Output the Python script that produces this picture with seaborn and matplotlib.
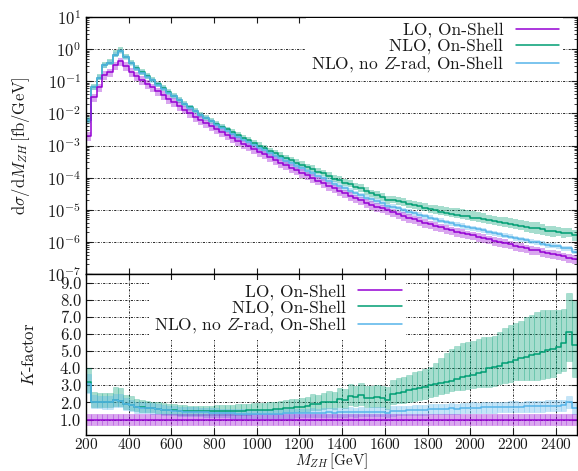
import numpy as np
import matplotlib
matplotlib.use("Agg")
import matplotlib.pyplot as plt
import seaborn as sns

# histogram binning (GeV)
bin_start = 200
bin_width = 25
n_bins = 92

# LO, On-Shell  dsigma/dM_ZH [fb/GeV], read as log10 per bin
lo_log10 = [-2.70, -1.50, -1.19, -0.81, -0.72, -0.50, -0.38, -0.53, -0.70, -0.84,
            -0.96, -1.08, -1.19, -1.31, -1.42, -1.54, -1.65, -1.77, -1.88, -1.99,
            -2.10, -2.21, -2.31, -2.40, -2.50, -2.59, -2.68, -2.77, -2.86, -2.95,
            -3.03, -3.12, -3.20, -3.28, -3.37, -3.45, -3.53, -3.61, -3.69, -3.77,
            -3.85, -3.93, -4.01, -4.09, -4.17, -4.25, -4.33, -4.41, -4.49, -4.57,
            -4.64, -4.71, -4.78, -4.84, -4.90, -4.96, -5.02, -5.08, -5.14, -5.19,
            -5.25, -5.30, -5.35, -5.40, -5.45, -5.50, -5.55, -5.60, -5.64, -5.68,
            -5.72, -5.76, -5.80, -5.84, -5.88, -5.92, -5.96, -6.00, -6.04, -6.08,
            -6.12, -6.16, -6.20, -6.24, -6.26, -6.31, -6.36, -6.38, -6.40, -6.45,
            -6.50, -6.52]
lo_rel_err = 0.30

# K-factor NLO, On-Shell (central, band low, band high)
k_nlo = [3.20, 2.05, 2.02, 2.00, 2.00, 2.12, 2.10, 1.92, 1.85, 1.75,
         1.72, 1.70, 1.68, 1.62, 1.58, 1.57, 1.55, 1.52, 1.50, 1.50,
         1.49, 1.48, 1.48, 1.49, 1.50, 1.50, 1.51, 1.52, 1.53, 1.53,
         1.54, 1.55, 1.56, 1.57, 1.58, 1.60, 1.62, 1.66, 1.70, 1.72,
         1.74, 1.78, 1.93, 1.90, 2.00, 2.05, 2.00, 2.20, 2.15, 2.40,
         2.30, 2.45, 2.28, 2.25, 2.30, 2.25, 2.12, 2.50, 2.55, 2.62,
         2.70, 2.78, 2.85, 2.92, 3.00, 3.05, 3.12, 3.20, 3.28, 3.35,
         3.47, 3.55, 3.62, 3.72, 3.80, 4.00, 4.06, 4.15, 4.30, 4.35,
         4.50, 4.60, 4.68, 4.75, 4.85, 4.96, 5.05, 5.15, 5.25, 5.45,
         6.14, 5.35]
k_nlo_hi = [4.00, 2.60, 2.58, 2.55, 2.55, 2.90, 2.85, 2.45, 2.35, 2.20,
            2.15, 2.10, 2.05, 2.00, 1.95, 1.92, 1.90, 1.86, 1.83, 1.82,
            1.81, 1.80, 1.80, 1.82, 1.83, 1.84, 1.86, 1.88, 1.90, 1.91,
            1.93, 1.95, 1.97, 1.99, 2.01, 2.05, 2.08, 2.13, 2.18, 2.22,
            2.26, 2.32, 2.48, 2.46, 2.58, 2.65, 2.60, 2.85, 2.80, 3.10,
            2.98, 3.15, 2.98, 2.95, 3.02, 2.98, 2.90, 3.30, 3.40, 3.50,
            3.62, 3.75, 3.85, 3.95, 4.05, 4.30, 4.60, 4.90, 5.10, 5.30,
            5.47, 5.55, 5.60, 5.70, 5.80, 5.84, 5.90, 6.10, 6.35, 6.50,
            6.65, 6.75, 7.00, 7.10, 7.30, 7.40, 7.40, 7.40, 7.40, 7.45,
            8.40, 7.90]
k_nlo_lo = [2.60, 1.75, 1.72, 1.72, 1.72, 1.80, 1.78, 1.62, 1.55, 1.48,
            1.45, 1.43, 1.42, 1.38, 1.33, 1.32, 1.30, 1.28, 1.26, 1.26,
            1.25, 1.24, 1.24, 1.25, 1.26, 1.26, 1.27, 1.28, 1.28, 1.29,
            1.29, 1.30, 1.31, 1.32, 1.32, 1.33, 1.35, 1.38, 1.40, 1.42,
            1.43, 1.46, 1.58, 1.55, 1.62, 1.65, 1.60, 1.75, 1.70, 1.85,
            1.78, 1.88, 1.75, 1.72, 1.76, 1.72, 1.62, 1.90, 1.94, 1.98,
            2.05, 2.10, 2.16, 2.22, 2.30, 2.40, 2.50, 2.58, 2.65, 2.70,
            2.72, 2.78, 2.82, 2.88, 2.90, 2.92, 2.95, 3.05, 3.15, 3.20,
            3.30, 3.30, 3.30, 3.30, 3.30, 3.35, 3.40, 3.50, 3.70, 3.85,
            4.40, 3.50]

# K-factor NLO, no Z-rad, On-Shell
k_noz = [3.10, 2.05, 2.02, 2.00, 2.00, 2.12, 2.10, 1.90, 1.83, 1.72,
         1.70, 1.68, 1.65, 1.60, 1.56, 1.54, 1.52, 1.49, 1.47, 1.46,
         1.45, 1.44, 1.42, 1.41, 1.40, 1.39, 1.38, 1.36, 1.35, 1.35,
         1.34, 1.34, 1.34, 1.34, 1.35, 1.35, 1.35, 1.36, 1.36, 1.37,
         1.37, 1.38, 1.40, 1.39, 1.40, 1.42, 1.40, 1.43, 1.42, 1.46,
         1.43, 1.47, 1.44, 1.45, 1.46, 1.45, 1.38, 1.50, 1.52, 1.53,
         1.54, 1.55, 1.56, 1.58, 1.60, 1.61, 1.62, 1.63, 1.65, 1.64,
         1.66, 1.68, 1.70, 1.69, 1.72, 1.71, 1.72, 1.74, 1.73, 1.75,
         1.76, 1.74, 1.77, 1.78, 1.77, 1.79, 1.80, 1.82, 1.81, 1.83,
         2.02, 1.65]
noz_rel_err = 0.18

labels = ["LO, On-Shell", "NLO, On-Shell", r"NLO, no $Z$-rad, On-Shell"]
colors = ["#9400D3", "#009E73", "#56B4E9"]

edges = bin_start + bin_width * np.arange(n_bins + 1)
lo = 10.0 ** np.array(lo_log10)
k_nlo = np.array(k_nlo)
k_nlo_hi = np.array(k_nlo_hi)
k_nlo_lo = np.array(k_nlo_lo)
k_noz = np.array(k_noz)


def ext(v):
    # repeat last bin so steps-post closes the final bin
    return np.append(v, v[-1])


sns.set_theme(style="ticks")
plt.rcParams.update({
    "font.family": ["cmr10", "DejaVu Serif"],
    "mathtext.fontset": "cm",
    "axes.unicode_minus": False,
    "axes.formatter.use_mathtext": True,
    "text.color": "#1a1a1a",
    "axes.labelcolor": "#1a1a1a",
    "xtick.color": "#1a1a1a",
    "ytick.color": "#1a1a1a",
    "axes.edgecolor": "black",
    "axes.linewidth": 1.0,
    "xtick.labelsize": 11,
    "ytick.labelsize": 12,
})

fig = plt.figure(figsize=(5.78, 4.71), dpi=100)
ax1 = fig.add_axes([86 / 578, 1 - 274 / 471, 491 / 578, 257 / 471])
ax2 = fig.add_axes([86 / 578, 1 - 435 / 471, 491 / 578, 161 / 471], sharex=ax1)

grid_kw = dict(color="black", lw=0.7, ls=(0, (2.2, 1.4, 0.7, 1.4)), alpha=0.85)
leg_kw = dict(loc="upper right", markerfirst=False, frameon=True,
              facecolor="white", edgecolor="none", framealpha=1, fancybox=False,
              fontsize=12.5, handlelength=2.5, handletextpad=0.7, labelspacing=0.0,
              borderpad=0.25, borderaxespad=0)

# ---- top panel: distributions
ax1.set_yscale("log")
top_bands = [
    (lo * (1 - lo_rel_err), lo * (1 + lo_rel_err)),
    (lo * k_nlo_lo, lo * k_nlo_hi),
    (lo * k_noz * (1 - noz_rel_err), lo * k_noz * (1 + noz_rel_err)),
]
for i in [1, 2, 0]:
    ax1.fill_between(edges, ext(top_bands[i][0]), ext(top_bands[i][1]),
                     step="post", color=colors[i], alpha=0.35, lw=0)
top_lines = [lo, lo * k_nlo, lo * k_noz]
for i in [1, 2, 0]:
    sns.lineplot(x=edges, y=ext(top_lines[i]), drawstyle="steps-post",
                 color=colors[i], lw=1.1, ax=ax1, label=labels[i])

ax1.set_ylim(1e-7, 1e1)
ax1.set_yticks([10.0 ** e for e in range(-7, 2)])
ax1.yaxis.set_minor_locator(matplotlib.ticker.LogLocator(base=10, subs=np.arange(2, 10), numticks=20))
ax1.yaxis.set_minor_formatter(matplotlib.ticker.NullFormatter())
ax1.yaxis.grid(True, which="major", **grid_kw)
ax1.xaxis.grid(False)
ax1.tick_params(labelbottom=False)
ax1.set_ylabel(r"$\mathrm{d}\sigma/\mathrm{d}M_{ZH}\,[\mathrm{fb/GeV}]$", fontsize=12)
ax1.yaxis.set_label_coords(-0.11, 0.5)

h, l = ax1.get_legend_handles_labels()
order = [l.index(s) for s in labels]
ax1.legend([h[j] for j in order], [l[j] for j in order],
           bbox_to_anchor=(0.972, 0.995), **leg_kw)

# ---- bottom panel: K-factors
k_bands = [
    (lo / lo * (1 - lo_rel_err), lo / lo * (1 + lo_rel_err)),
    (k_nlo_lo, k_nlo_hi),
    (k_noz * (1 - noz_rel_err), k_noz * (1 + noz_rel_err)),
]
for i in [1, 2, 0]:
    ax2.bar(edges[:-1], k_bands[i][1] - k_bands[i][0], bottom=k_bands[i][0],
            width=bin_width, align="edge", color=colors[i], alpha=0.35,
            edgecolor=colors[i], linewidth=0.4)
k_lines = [lo / lo, k_nlo, k_noz]
for i in [1, 2, 0]:
    sns.lineplot(x=edges, y=ext(k_lines[i]), drawstyle="steps-post",
                 color=colors[i], lw=1.1, ax=ax2, label=labels[i])

ax2.set_xlim(200, 2500)
ax2.set_xticks(np.arange(200, 2401, 200))
ax2.set_ylim(0.1, 9.5)
ax2.set_yticks(np.arange(1, 10))
ax2.yaxis.set_major_formatter(matplotlib.ticker.FormatStrFormatter("%.1f"))
ax2.grid(True, which="major", **grid_kw)
ax2.set_ylabel(r"$K$-factor", fontsize=12)
ax2.yaxis.set_label_coords(-0.1, 0.5)
ax2.set_xlabel(r"$M_{ZH}\,[\mathrm{GeV}]$", fontsize=11, va="bottom")
ax2.xaxis.set_label_coords(0.5, -0.222)

h, l = ax2.get_legend_handles_labels()
order = [l.index(s) for s in labels]
ax2.legend([h[j] for j in order], [l[j] for j in order],
           bbox_to_anchor=(0.652, 0.965), **leg_kw)

for ax in (ax1, ax2):
    ax.set_axisbelow(True)
    ax.tick_params(which="both", direction="in", top=True, right=True)
    ax.tick_params(which="major", length=4, width=0.8)
    ax.tick_params(which="minor", length=2, width=0.6)
    for s in ax.spines.values():
        s.set_visible(True)
        s.set_color("black")
        s.set_linewidth(1.0)
ax2.tick_params(axis="x", pad=1.5)

fig.savefig("out.png", dpi=100)
